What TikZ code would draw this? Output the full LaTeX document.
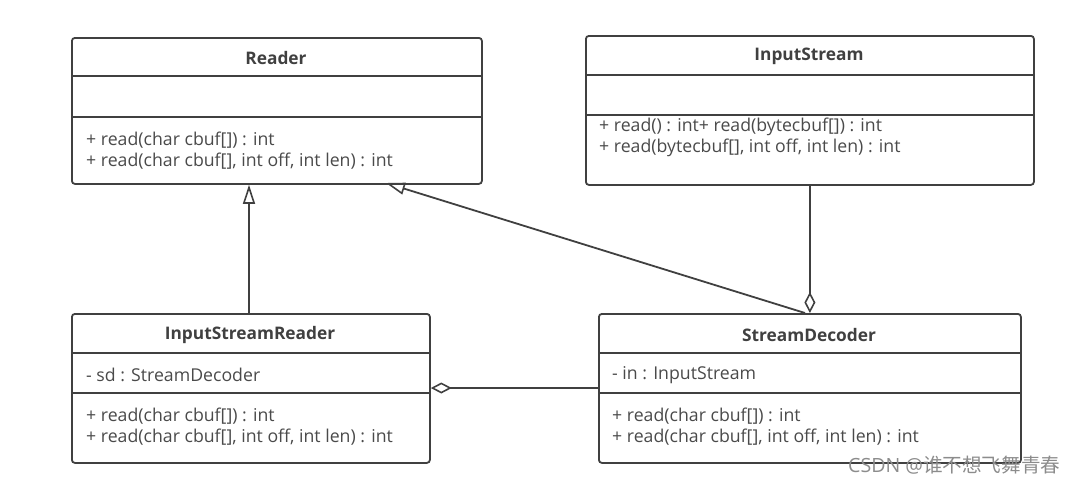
\documentclass[tikz,border=0pt]{standalone}
\usepackage{fontspec}
\setmainfont{Open Sans}
\newfontfamily\cjk{Noto Sans CJK SC}
\usetikzlibrary{arrows.meta, positioning}

\definecolor{linegray}{HTML}{404040}
\definecolor{textgray}{HTML}{4A4A4A}

\tikzset{
  umlbox/.style={draw=linegray, line width=1.8pt, rounded corners=3pt,
    inner sep=0pt, anchor=north west},
  umlname/.style={text=linegray, font=\fontsize{17.3}{19}\selectfont\bfseries},
  umltext/.style={anchor=west, text=textgray, inner sep=0pt,
    font=\fontsize{17.7}{19}\selectfont},
  divider/.style={draw=linegray, line width=1.8pt},
  inherit/.style={draw=linegray, line width=1.8pt,
    -{Triangle[open, length=19pt, width=12pt, line width=1.6pt]}},
  aggregate/.style={draw=linegray, line width=1.8pt,
    {Diamond[open, length=21pt, width=11pt, line width=1.6pt]}-},
}

\begin{document}
\begin{tikzpicture}[x=1pt, y=-1pt]
  \useasboundingbox (0,0) rectangle (1074,483);

  % class boxes
  \node[umlbox, minimum width=410pt, minimum height=146pt] (reader) at (71,37) {};
  \node[umlbox, minimum width=448pt, minimum height=149pt] (instream) at (585,35) {};
  \node[umlbox, minimum width=358pt, minimum height=149pt] (isr) at (71,313) {};
  \node[umlbox, minimum width=422pt, minimum height=149pt] (sd) at (598,313) {};

  % dividers
  \draw[divider] (reader.west |- 0,76) -- (reader.east |- 0,76);
  \draw[divider] (reader.west |- 0,117) -- (reader.east |- 0,117);
  \draw[divider] (instream.west |- 0,75) -- (instream.east |- 0,75);
  \draw[divider] (instream.west |- 0,115) -- (instream.east |- 0,115);
  \draw[divider] (isr.west |- 0,353) -- (isr.east |- 0,353);
  \draw[divider] (isr.west |- 0,393) -- (isr.east |- 0,393);
  \draw[divider] (sd.west |- 0,353) -- (sd.east |- 0,353);
  \draw[divider] (sd.west |- 0,393) -- (sd.east |- 0,393);

  % names
  \node[umlname] (readername) at (276,58) {Reader};
  \node[umlname] (instreamname) at (809,56) {InputStream};
  \node[umlname] (isrname) at (250,335) {InputStreamReader};
  \node[umlname] (sdname) at (809,335) {StreamDecoder};

  % attributes and methods
  \node[umltext] (readerm1) at (86,140) {+ read(char cbuf[]) : int};
  \node[umltext] (readerm2) at (86,161) {+ read(char cbuf[], int off, int len) : int};
  \node[umltext] (instreamm1) at (599,127) {+ read() : int+ read(bytecbuf[]) : int};
  \node[umltext] (instreamm2) at (599,148) {+ read(bytecbuf[], int off, int len) : int};
  \node[umltext] (isra1) at (86,375) {- sd : StreamDecoder};
  \node[umltext] (isrm1) at (86,416) {+ read(char cbuf[]) : int};
  \node[umltext] (isrm2) at (86,437) {+ read(char cbuf[], int off, int len) : int};
  \node[umltext] (sda1) at (612,375) {- in : InputStream};
  \node[umltext] (sdm1) at (612,416) {+ read(char cbuf[]) : int};
  \node[umltext] (sdm2) at (612,437) {+ read(char cbuf[], int off, int len) : int};

  % connectors
  \coordinate (readerhook) at (386,183);
  \coordinate (sdside) at (598,388);
  \draw[inherit] (isr.north -| 249,0) -- (reader.south -| 249,0);
  \draw[inherit] (sd.north -| 805,0) -- (readerhook);
  \draw[aggregate] (sd.north) -- (instream.south);
  \draw[aggregate] (isr.east |- sdside) -- (sdside);

  \node[anchor=west, text=black!45, inner sep=0pt, font=\fontsize{19.6}{21}\selectfont]
    (mark) at (848,465) {CSDN @{\cjk 谁不想飞舞青春}};
\end{tikzpicture}
\end{document}
